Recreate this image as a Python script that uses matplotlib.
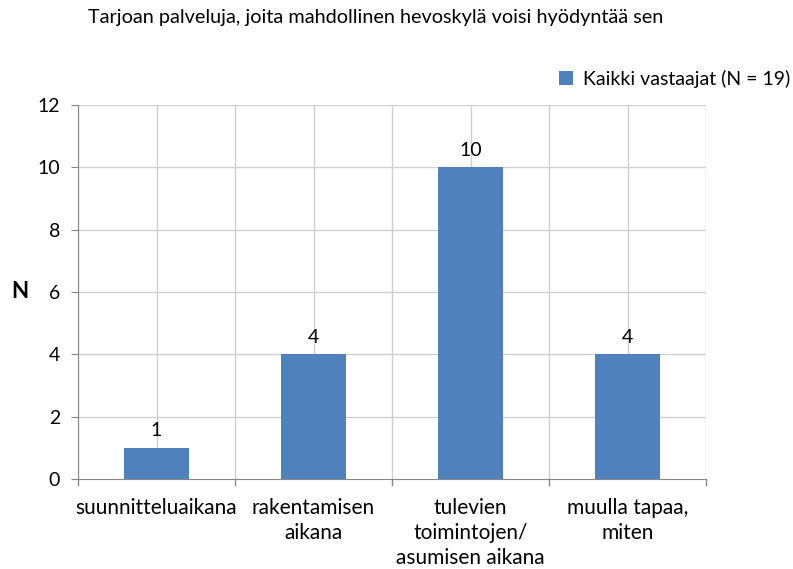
import matplotlib
matplotlib.use("Agg")
import matplotlib.pyplot as plt
import numpy as np

categories = ["suunnitteluaikana", "rakentamisen\naikana", "tulevien\ntoimintojen/\nasumisen aikana", "muulla tapaa,\nmiten"]
values = [1, 4, 10, 4]
series_name = "Kaikki vastaajat (N = 19)"
title = "Tarjoan palveluja, joita mahdollinen hevoskylä voisi hyödyntää sen"
yticks = [0, 2, 4, 6, 8, 10, 12]

plt.rcParams['font.family'] = ['Lato', 'DejaVu Sans']

fig = plt.figure(figsize=(7.93, 5.69), dpi=100)
ax = fig.add_axes([78/793, 1-479/569, (706-78)/793, (479-105)/569])

x = np.arange(len(categories))
bar_color = "#4F81BD"
bars = ax.bar(x, values, width=0.41, color=bar_color, label=series_name, zorder=3)

ax.set_xlim(-0.5, len(categories)-0.5)
ax.set_ylim(0, 12)
ax.set_yticks(yticks)
ax.set_yticklabels([str(t) for t in yticks], fontsize=14)
ax.set_xticks(x)
ax.set_xticklabels(categories, fontsize=15, linespacing=1.3)
ax.tick_params(axis='x', length=0, pad=14)
ax.tick_params(axis='y', length=5, color="#888888", pad=8)

for xv in np.arange(-0.5, len(categories)-0.4, 0.5):
    ax.axvline(xv, color="#D0D0D0", lw=1, zorder=0)
for yv in yticks[1:]:
    ax.axhline(yv, color="#D0D0D0", lw=1, zorder=0)
# ticks at category boundaries on x axis
for xv in np.arange(-0.5, len(categories), 1.0):
    ax.plot([xv, xv], [0, -0.18], color="#888888", lw=1, clip_on=False, zorder=4)

for s in ['top', 'right']:
    ax.spines[s].set_visible(False)
for s in ['left', 'bottom']:
    ax.spines[s].set_color("#888888")

for xi, v in zip(x, values):
    ax.annotate(str(v), (xi, v), xytext=(0, 6), textcoords='offset points',
                ha='center', va='bottom', fontsize=14)

ax.text(20/793, 1-292/569, "N", transform=fig.transFigure, fontsize=16,
        fontweight='bold', ha='center', va='center')

fig.text(88/793, 1-18/569, title, fontsize=14.3, ha='left', va='center')
fig.legend(handles=[bars], labels=[series_name], loc='center right',
           bbox_to_anchor=(1.006, 1-79/569), frameon=False, fontsize=14,
           handlelength=0.7, handleheight=0.7, handletextpad=0.5, borderaxespad=0)

fig.savefig("out.png", dpi=100, facecolor='white')
